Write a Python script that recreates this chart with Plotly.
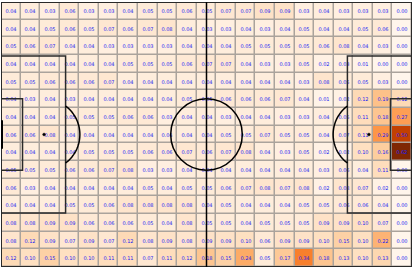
import numpy as np
import plotly.graph_objects as go

# pitch 105 x 68 split into 21 x 15 zones
x_centers = [2.5 + 5 * i for i in range(21)]
y_centers = [(j + 0.5) * 68 / 15 for j in range(15)]

row0 = [0.04,0.04,0.03,0.06,0.03,0.03,0.04,0.05,0.05,0.06,0.05,0.07,0.07,0.09,0.09,0.03,0.04,0.03,0.03,0.03,0.00]
row1 = [0.04,0.04,0.05,0.06,0.05,0.07,0.06,0.07,0.08,0.04,0.03,0.03,0.04,0.03,0.04,0.05,0.04,0.04,0.05,0.06,0.00]
row2 = [0.05,0.06,0.07,0.04,0.04,0.03,0.03,0.03,0.03,0.04,0.04,0.04,0.05,0.05,0.05,0.05,0.06,0.08,0.04,0.03,0.00]
row3 = [0.04,0.04,0.04,0.04,0.04,0.04,0.05,0.05,0.05,0.06,0.07,0.07,0.04,0.03,0.03,0.05,0.02,0.03,0.01,0.00,0.00]
row4 = [0.05,0.05,0.06,0.06,0.06,0.07,0.04,0.04,0.04,0.04,0.04,0.04,0.04,0.04,0.04,0.03,0.08,0.05,0.05,0.03,0.00]
row5 = [0.04,0.03,0.04,0.03,0.04,0.04,0.04,0.04,0.04,0.05,0.05,0.06,0.06,0.06,0.07,0.04,0.01,0.02,0.12,0.19,0.12]
row6 = [0.04,0.04,0.04,0.05,0.05,0.05,0.06,0.06,0.03,0.04,0.04,0.03,0.04,0.04,0.03,0.03,0.04,0.05,0.11,0.18,0.27]
row7 = [0.06,0.06,0.08,0.04,0.04,0.04,0.04,0.04,0.04,0.04,0.04,0.05,0.05,0.07,0.05,0.05,0.04,0.07,0.11,0.29,0.50]
row8 = [0.04,0.04,0.04,0.04,0.05,0.05,0.05,0.06,0.06,0.07,0.06,0.07,0.08,0.04,0.03,0.05,0.02,0.02,0.10,0.16,0.62]
row9 = [0.05,0.05,0.05,0.06,0.06,0.07,0.08,0.03,0.03,0.04,0.04,0.04,0.04,0.04,0.04,0.04,0.03,0.06,0.04,0.11,0.00]
row10 = [0.06,0.03,0.04,0.04,0.04,0.04,0.04,0.05,0.04,0.05,0.05,0.06,0.07,0.08,0.07,0.08,0.02,0.08,0.07,0.02,0.00]
row11 = [0.04,0.04,0.04,0.05,0.05,0.06,0.08,0.08,0.08,0.08,0.04,0.05,0.04,0.04,0.04,0.05,0.05,0.06,0.06,0.04,0.00]
row12 = [0.08,0.08,0.09,0.09,0.06,0.06,0.06,0.05,0.04,0.08,0.05,0.05,0.04,0.05,0.05,0.05,0.09,0.09,0.10,0.07,0.00]
row13 = [0.08,0.12,0.09,0.07,0.09,0.07,0.12,0.08,0.09,0.08,0.09,0.09,0.10,0.06,0.09,0.09,0.10,0.15,0.10,0.22,0.00]
row14 = [0.12,0.10,0.15,0.10,0.10,0.11,0.11,0.07,0.11,0.12,0.18,0.15,0.24,0.05,0.17,0.34,0.18,0.13,0.10,0.13,0.00]

z = [row0, row1, row2, row3, row4, row5, row6, row7, row8, row9,
     row10, row11, row12, row13, row14]

fig = go.Figure()
fig.add_trace(go.Heatmap(
    x=x_centers, y=y_centers, z=z,
    colorscale="Oranges", zmin=0, zmax=0.62, showscale=False,
    xgap=1.5, ygap=1.5,
    texttemplate="%{z:.2f}",
    textfont=dict(color="#1c1cf2", size=5, family="DejaVu Sans"),
    hoverinfo="skip",
))

LC = "#2a2a2a"
shapes = []
def line(x0, y0, x1, y1, w=1.5, c=LC):
    shapes.append(dict(type="line", x0=x0, y0=y0, x1=x1, y1=y1,
                       line=dict(color=c, width=w), layer="above"))
def rect(x0, y0, x1, y1, w=1.5):
    shapes.append(dict(type="rect", x0=x0, y0=y0, x1=x1, y1=y1,
                       line=dict(color=LC, width=w), layer="above"))

rect(0, 0, 105, 68, 2)
line(52.5, 0, 52.5, 68, 1.5, "black")
shapes.append(dict(type="circle", x0=52.5 - 9.15, x1=52.5 + 9.15, y0=34 - 9.15, y1=34 + 9.15,
                   line=dict(color="black", width=1.5), layer="above"))
# penalty areas
rect(0, 13.84, 16.5, 54.16)
rect(88.5, 13.84, 105, 54.16)
# goal areas
rect(0, 24.84, 5.5, 43.16)
rect(99.5, 24.84, 105, 43.16)
# goals
line(0, 30.34, 0, 37.66, 4, "black")
line(105.3, 30.34, 105.3, 37.66, 3, "black")
# penalty spots
for px in (11, 94):
    shapes.append(dict(type="circle", x0=px - 0.35, x1=px + 0.35, y0=34 - 0.35, y1=34 + 0.35,
                       fillcolor="black", line=dict(color="black", width=0.5), layer="above"))
# penalty arcs
th = np.arccos(5.5 / 9.15)
ang = np.linspace(-th, th, 40)
pl = "M " + " L ".join(f"{11 + 9.15*np.cos(a):.3f},{34 + 9.15*np.sin(a):.3f}" for a in ang)
pr = "M " + " L ".join(f"{94 - 9.15*np.cos(a):.3f},{34 + 9.15*np.sin(a):.3f}" for a in ang)
shapes.append(dict(type="path", path=pl, line=dict(color="black", width=1.5), layer="above"))
shapes.append(dict(type="path", path=pr, line=dict(color="black", width=1.5), layer="above"))

fig.update_layout(
    width=415, height=270,
    margin=dict(l=1, r=3, t=2, b=3),
    paper_bgcolor="white", plot_bgcolor="#aaa39c",
    shapes=shapes,
    xaxis=dict(range=[0, 105], visible=False, fixedrange=True),
    yaxis=dict(range=[68, 0], visible=False, fixedrange=True),
)
fig.write_html("out.html", config={"displayModeBar": False},
               post_script="document.body.style.margin='0px';document.body.style.overflow='hidden';")
